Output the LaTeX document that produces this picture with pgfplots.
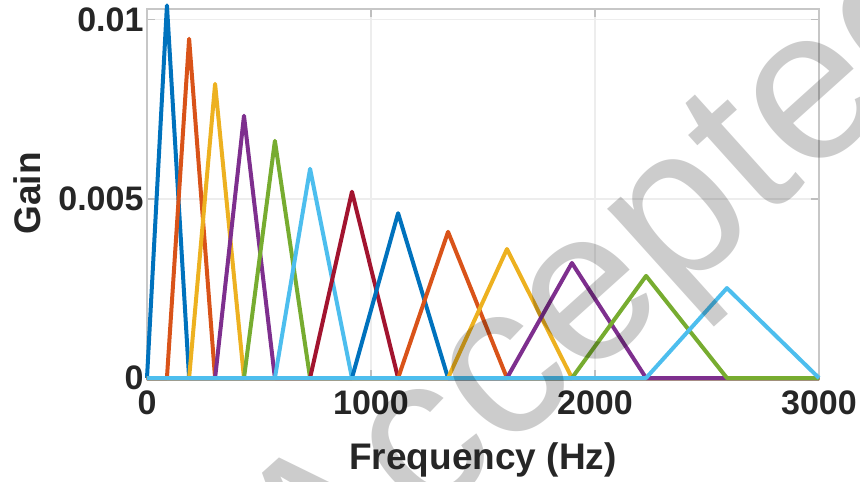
\documentclass[border=0pt]{standalone}
\usepackage{pgfplots}
\pgfplotsset{compat=1.18}
\usepackage{fontspec}
\setmainfont{Liberation Sans}
\definecolor{c1}{rgb}{0,0.447,0.741}
\definecolor{c2}{rgb}{0.85,0.325,0.098}
\definecolor{c3}{rgb}{0.929,0.694,0.125}
\definecolor{c4}{rgb}{0.494,0.184,0.556}
\definecolor{c5}{rgb}{0.466,0.674,0.188}
\definecolor{c6}{rgb}{0.301,0.745,0.933}
\definecolor{c7}{rgb}{0.635,0.078,0.184}
\begin{document}
\begin{tikzpicture}
\begin{axis}[
  scale only axis, width=672bp, height=369bp,
  xmin=0, xmax=3000, ymin=0, ymax=0.0103,
  xtick={0,1000,2000,3000}, xticklabels={0,1000,2000,3000},
  ytick={0,0.005,0.01}, yticklabels={0,0.005,0.01},
  scaled y ticks=false, scaled x ticks=false,
  grid=major, major grid style={line width=1.5bp, color=black!7},
  axis line style={line width=2bp, color=black!22},
  tick align=inside, major tick length=8bp,
  tick style={line width=1.5bp, color=black!25},
  ticklabel style={font=\fontsize{34bp}{36bp}\selectfont\bfseries, text=black!85},
  xticklabel style={yshift=-9bp},
  xlabel={Frequency (Hz)}, ylabel={Gain},
  label style={font=\fontsize{37bp}{40bp}\selectfont\bfseries, text=black!85},
  xlabel style={at={(axis description cs:0.5,-0.2493)}, anchor=base},
  ylabel style={at={(axis description cs:-0.1592,0.5)}, anchor=base},
  clip=false,
  every axis plot/.append style={line width=4bp, line join=round},
]
\addplot[c1] coordinates {(0,0) (89,0.0104) (188,0) (3000,0)};
\addplot[c2] coordinates {(0,0) (89,0) (188,0.00947) (304,0) (3000,0)};
\addplot[c3] coordinates {(0,0) (188,0) (304,0.00821) (433,0) (3000,0)};
\addplot[c4] coordinates {(0,0) (304,0) (433,0.00732) (571,0) (3000,0)};
\addplot[c5] coordinates {(0,0) (433,0) (571,0.00662) (728,0) (3000,0)};
\addplot[c6] coordinates {(0,0) (571,0) (728,0.00584) (915,0) (3000,0)};
\addplot[c7] coordinates {(0,0) (728,0) (915,0.0052) (1121,0) (3000,0)};
\addplot[c1] coordinates {(0,0) (915,0) (1121,0.0046) (1344,0) (3000,0)};
\addplot[c2] coordinates {(0,0) (1121,0) (1344,0.00408) (1607,0) (3000,0)};
\addplot[c3] coordinates {(0,0) (1344,0) (1607,0.0036) (1897,0) (3000,0)};
\addplot[c4] coordinates {(0,0) (1607,0) (1897,0.00321) (2228,0) (3000,0)};
\addplot[c5] coordinates {(0,0) (1897,0) (2228,0.00285) (2589,0) (3000,0)};
\addplot[c6] coordinates {(0,0) (2228,0) (2589,0.00251) (3000,0)};
\node[rotate=42, anchor=base, text=black, text opacity=0.2,
      font=\fontsize{216bp}{220bp}\selectfont]
  at (axis description cs:0.75,0.149) {Accepted};
\end{axis}
\pgfresetboundingbox
\path (current axis.south west) +(-147bp,-104bp) coordinate (bl);
\path (current axis.north east) +(41bp,9bp) coordinate (tr);
\useasboundingbox (bl) rectangle (tr);
\end{tikzpicture}
\end{document}
